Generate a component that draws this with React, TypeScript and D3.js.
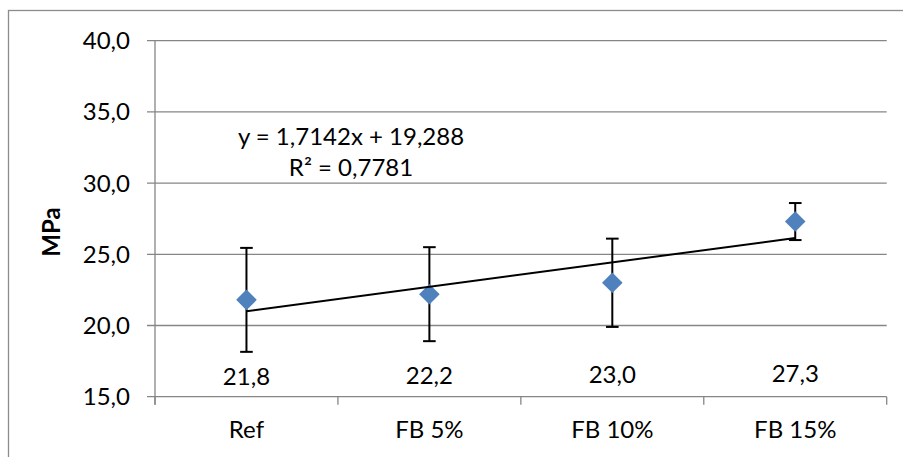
import React from "react";
import * as d3 from "d3";

// Compressive strength per mix
const categories = ["Ref", "FB 5%", "FB 10%", "FB 15%"];
const means = [21.8, 22.2, 23.0, 27.3];
const deviations = [3.65, 3.3, 3.1, 1.3];
const yTicks = [15, 20, 25, 30, 35, 40];

// Linear trend fitted over category index (1..4)
const trendSlope = 1.7142;
const trendIntercept = 19.288;
const trendLabel = "y = 1,7142x + 19,288";
const r2Label = "R² = 0,7781";

const W = 903;
const H = 457;
const FONT = "Lato, 'Open Sans', sans-serif";
const GRID = "#868686";
const BLUE = "#4F81BD";

const comma = (v: number) => d3.format(".1f")(v).replace(".", ",");

export default function App() {
  const left = 155;
  const right = 886.7;
  const top = 40.7;
  const bottom = 396.7;

  const x = d3.scaleBand<string>().domain(categories).range([left, right]);
  const cx = (c: string) => (x(c) as number) + x.bandwidth() / 2;
  const y = d3.scaleLinear().domain([15, 40]).range([bottom, top]);

  // Trend line in index space mapped to category centres
  const idx = d3.scaleLinear().domain([1, 4]).range([cx(categories[0]), cx(categories[3])]);
  const trend = d3.line<number>()
    .x((i) => idx(i))
    .y((i) => y(trendSlope * i + trendIntercept));

  const diamond = d3.symbol().type(d3.symbolSquare).size(212)();
  const cap = 6.3;
  const boundaries = d3.range(categories.length + 1).map((i) => left + i * x.bandwidth());

  return (
    <svg
      width={W}
      height={H}
      style={{ position: "fixed", left: 0, top: 0, background: "#fff" }}
      fontFamily={FONT}
    >
      <rect x={8.5} y={10.5} width={W + 10} height={H + 10} fill="#fff" stroke="#8c8c8c" strokeWidth={1.3} />

      {/* gridlines and y ticks */}
      {yTicks.map((t) => (
        <g key={t}>
          <line x1={left - 8} x2={right} y1={y(t)} y2={y(t)} stroke={GRID} strokeWidth={1.3} />
          <text x={130} y={y(t)} dy="0.35em" textAnchor="end" fontSize={24} fill="#000">
            {comma(t)}
          </text>
        </g>
      ))}

      {/* y axis */}
      <line x1={left} x2={left} y1={top} y2={bottom + 8} stroke={GRID} strokeWidth={1.3} />

      {/* x axis ticks at category boundaries */}
      {boundaries.map((b, i) => (
        <line key={i} x1={b} x2={b} y1={bottom} y2={bottom + 8} stroke={GRID} strokeWidth={1.3} />
      ))}

      {/* category labels */}
      {categories.map((c) => (
        <text key={c} x={cx(c)} y={430} dy="0.35em" textAnchor="middle" fontSize={24} fill="#000">
          {c}
        </text>
      ))}

      {/* y title */}
      <text
        transform={`translate(52,232) rotate(-90)`}
        textAnchor="middle"
        dy="0.35em"
        fontSize={24}
        fontWeight="bold"
        fill="#000"
      >
        MPa
      </text>

      {/* error bars */}
      {categories.map((c, i) => {
        const px = cx(c);
        const hi = y(means[i] + deviations[i]);
        const lo = y(means[i] - deviations[i]);
        return (
          <g key={c} stroke="#000" strokeWidth={2}>
            <line x1={px} x2={px} y1={hi} y2={lo} />
            <line x1={px - cap} x2={px + cap} y1={hi} y2={hi} />
            <line x1={px - cap} x2={px + cap} y1={lo} y2={lo} />
          </g>
        );
      })}

      {/* points */}
      {categories.map((c, i) => (
        <path
          key={c}
          d={diamond as string}
          transform={`translate(${cx(c)},${y(means[i])}) rotate(45)`}
          fill={BLUE}
        />
      ))}

      {/* trend line */}
      <path d={trend([1, 4]) as string} fill="none" stroke="#000" strokeWidth={2} />

      {/* value labels */}
      {categories.map((c, i) => (
        <text key={c} x={cx(c)} y={377 - i * 1.2} dy="0.35em" textAnchor="middle" fontSize={24} fill="#000">
          {comma(means[i])}
        </text>
      ))}

      {/* trend equation */}
      <text x={351} y={137} dy="0.35em" textAnchor="middle" fontSize={24} fill="#000">
        {trendLabel}
      </text>
      <text x={351} y={168} dy="0.35em" textAnchor="middle" fontSize={24} fill="#000">
        {r2Label}
      </text>
    </svg>
  );
}
